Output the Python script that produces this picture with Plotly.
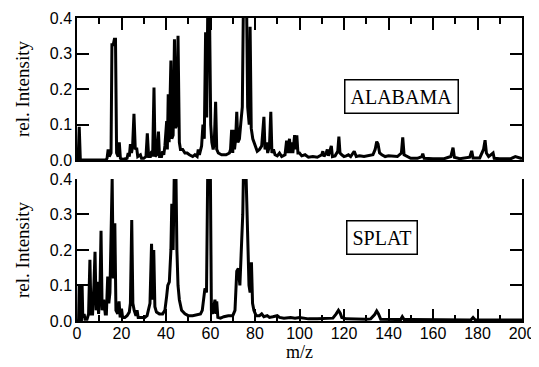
import plotly.graph_objects as go

# ALABAMA spectrum (m/z, relative intensity)
alabama_mz = [0, 0.5, 1.0, 1.5, 13.0, 13.5, 14.0, 14.5, 15.3, 15.7, 16.3, 16.8, 17.3, 17.8, 18.5, 19.0, 19.5,
              20.5, 22.5, 23.0, 23.5, 24.0, 24.5, 25.0, 25.6, 26.2, 26.8, 27.3, 28.5, 29.0, 30.0, 31.0, 31.6,
              32.2, 33.0, 33.6, 34.0, 34.6, 35.1, 35.8, 36.6, 37.1, 38.0, 38.5, 39.0, 39.5, 40.3, 40.6, 41.0,
              41.4, 42.2, 42.6, 43.2, 43.8, 44.3, 44.8, 45.4, 46.0, 46.5, 47.5, 48.5, 49.5, 50.5, 52.0, 53.0,
              54.0, 54.5, 55.0, 56.0, 56.6, 57.2, 57.8, 58.3, 58.8, 59.5, 60.1, 60.6, 61.2, 61.7, 62.3, 62.8,
              63.5, 65.0, 67.0, 68.5, 69.0, 69.5, 70.0, 70.3, 70.8, 71.3, 71.8, 72.3, 73.0, 73.7, 74.3, 74.8,
              76.2, 76.7, 77.4, 77.8, 78.3, 79.0, 80.0, 81.0, 82.0, 83.0, 83.5, 84.0, 84.5, 85.2, 85.7, 86.5,
              87.1, 87.6, 88.3, 89.0, 90.0, 91.0, 92.0, 93.5, 94.2, 94.7, 95.5, 96.0, 96.5, 97.0, 97.8, 98.3,
              98.8, 99.3, 100.0, 101.0, 102.5, 104.0, 106.0, 108.0, 110.0, 110.5, 111.0, 112.0, 112.5, 113.0,
              114.3, 114.8, 116.0, 117.2, 117.7, 118.2, 119.0, 120.0, 121.0, 122.0, 123.0, 124.6, 125.5, 127.0,
              129.0, 131.0, 133.0, 134.0, 134.7, 135.3, 136.0, 137.0, 138.5, 140.0, 142.0, 144.0, 145.8, 146.4,
              147.0, 148.5, 150.0, 153.0, 155.0, 155.4, 156.0, 160.0, 165.0, 168.0, 169.0, 169.6, 172.0, 176.5,
              177.4, 178.0, 181.0, 182.7, 183.4, 184.0, 185.0, 187.0, 187.5, 190.0, 195.0, 197.0, 198.0, 199.0,
              200.0]
alabama_int = [0.0, 0.0, 0.094, 0.0, 0.0, 0.005, 0.03, 0.01, 0.02, 0.325, 0.325, 0.34, 0.34, 0.02, 0.01, 0.05, 0.005,
               0.002, 0.005, 0.02, 0.01, 0.045, 0.02, 0.04, 0.13, 0.03, 0.035, 0.01, 0.015, 0.005, 0.005, 0.01, 0.075,
               0.01, 0.01, 0.025, 0.01, 0.204, 0.01, 0.015, 0.08, 0.01, 0.01, 0.025, 0.015, 0.04, 0.11, 0.03, 0.185,
               0.05, 0.28, 0.06, 0.07, 0.34, 0.09, 0.1, 0.35, 0.05, 0.03, 0.03, 0.02, 0.02, 0.015, 0.01, 0.015,
               0.01, 0.03, 0.015, 0.04, 0.1, 0.06, 0.36, 0.12, 0.45, 0.45, 0.1, 0.05, 0.03, 0.05, 0.164, 0.03,
               0.02, 0.015, 0.015, 0.02, 0.03, 0.085, 0.02, 0.085, 0.03, 0.06, 0.136, 0.05, 0.06, 0.11, 0.15, 0.45,
               0.45, 0.15, 0.1, 0.375, 0.09, 0.06, 0.04, 0.025, 0.03, 0.04, 0.08, 0.122, 0.03, 0.05, 0.02, 0.04,
               0.136, 0.02, 0.03, 0.015, 0.012, 0.02, 0.01, 0.015, 0.055, 0.02, 0.06, 0.02, 0.05, 0.02, 0.07, 0.03,
               0.07, 0.02, 0.02, 0.012, 0.015, 0.008, 0.01, 0.008, 0.015, 0.025, 0.01, 0.02, 0.03, 0.012,
               0.04, 0.01, 0.012, 0.025, 0.066, 0.02, 0.015, 0.01, 0.012, 0.015, 0.01, 0.025, 0.01, 0.012,
               0.01, 0.012, 0.015, 0.03, 0.052, 0.045, 0.02, 0.015, 0.01, 0.012, 0.01, 0.01, 0.02, 0.064,
               0.015, 0.01, 0.005, 0.005, 0.01, 0.018, 0.005, 0.004, 0.004, 0.01, 0.035, 0.008, 0.004, 0.008,
               0.026, 0.006, 0.006, 0.03, 0.056, 0.02, 0.01, 0.02, 0.005, 0.004, 0.004, 0.01, 0.008, 0.004,
               0.004]

# SPLAT spectrum (m/z, relative intensity)
splat_mz = [0, 0.7, 1.0, 1.3, 2.0, 2.3, 2.6, 3.2, 3.6, 4.5, 5.2, 5.8, 6.3, 7.0, 7.6, 8.1, 8.6, 9.2, 9.7, 10.3,
            10.8, 11.3, 12.0, 12.7, 13.2, 13.8, 14.3, 14.8, 15.8, 16.3, 17.0, 17.5, 18.3, 18.9, 19.4, 20.0,
            20.5, 21.5, 22.5, 23.5, 24.0, 24.6, 25.1, 25.7, 26.5, 27.0, 27.5, 29.0, 30.5, 31.5, 32.3, 32.8,
            33.5, 34.0, 34.5, 35.0, 35.7, 37.0, 38.5, 39.5, 40.3, 40.8, 41.5, 42.2, 42.6, 43.2, 43.8, 44.4,
            44.9, 45.4, 46.0, 47.0, 48.5, 50.0, 52.0, 54.0, 55.5, 56.3, 57.0, 57.5, 58.2, 58.8, 59.9, 60.4,
            61.0, 61.5, 62.0, 62.5, 62.8, 63.3, 64.5, 66.0, 68.0, 70.0, 71.0, 71.8, 72.5, 73.2, 73.8, 74.5,
            74.9, 75.8, 76.3, 76.8, 77.3, 77.8, 78.4, 78.9, 79.5, 80.5, 82.0, 83.0, 84.0, 85.5, 86.5, 88.0,
            90.0, 91.0, 93.0, 96.0, 98.0, 100.0, 104.0, 108.0, 112.0, 115.0, 116.5, 117.5, 118.3, 119.0,
            121.0, 125.0, 130.0, 132.0, 133.8, 134.7, 135.5, 136.5, 140.0, 143.0, 145.5, 146.2, 147.0, 150.0,
            160.0, 170.0, 177.0, 178.0, 179.0, 190.0, 200.0]
splat_int = [0.0, 0.0, 0.1, 0.0, 0.0, 0.1, 0.01, 0.02, 0.005, 0.005, 0.02, 0.172, 0.02, 0.02, 0.1, 0.195, 0.03, 0.11, 0.02, 0.08,
             0.254, 0.03, 0.06, 0.02, 0.02, 0.125, 0.05, 0.08, 0.40, 0.12, 0.275, 0.03, 0.02, 0.055, 0.01, 0.035,
             0.01, 0.01, 0.015, 0.025, 0.05, 0.284, 0.05, 0.03, 0.015, 0.03, 0.01, 0.01, 0.01, 0.015, 0.04, 0.05,
             0.217, 0.06, 0.2, 0.04, 0.025, 0.02, 0.02, 0.03, 0.07, 0.1, 0.11, 0.2, 0.33, 0.2, 0.45, 0.45,
             0.2, 0.1, 0.06, 0.03, 0.02, 0.015, 0.015, 0.018, 0.02, 0.03, 0.06, 0.092, 0.08, 0.45, 0.45, 0.03,
             0.02, 0.04, 0.06, 0.02, 0.055, 0.01, 0.008, 0.012, 0.015, 0.015, 0.03, 0.14, 0.148, 0.1, 0.2, 0.3,
             0.45, 0.45, 0.336, 0.2, 0.1, 0.08, 0.165, 0.05, 0.03, 0.015, 0.015, 0.02, 0.012, 0.015, 0.01, 0.012,
             0.015, 0.01, 0.008, 0.01, 0.008, 0.01, 0.006, 0.006, 0.006, 0.008, 0.02, 0.03, 0.022, 0.01,
             0.006, 0.005, 0.005, 0.006, 0.018, 0.028, 0.02, 0.005, 0.005, 0.004, 0.004, 0.012, 0.004, 0.004,
             0.003, 0.003, 0.003, 0.01, 0.003, 0.003, 0.003]

panel_labels = ["ALABAMA", "SPLAT"]
y_tick_vals = [0.0, 0.1, 0.2, 0.3, 0.4]
x_tick_vals = [0, 20, 40, 60, 80, 100, 120, 140, 160, 180, 200]

fig = go.Figure()
fig.add_trace(go.Scatter(x=alabama_mz, y=alabama_int, mode="lines",
                         line=dict(color="black", width=3), xaxis="x", yaxis="y",
                         showlegend=False))
fig.add_trace(go.Scatter(x=splat_mz, y=splat_int, mode="lines",
                         line=dict(color="black", width=3), xaxis="x2", yaxis="y2",
                         showlegend=False))

tick_font = dict(family="Liberation Sans, Arial", size=16, color="black")
serif = "Liberation Serif, Times New Roman"
title_font = dict(family=serif, size=19, color="black")

common_x = dict(range=[0, 200], tickvals=x_tick_vals, ticks="inside", ticklen=12, tickwidth=1.5,
                tickcolor="black", showline=True, linecolor="black", linewidth=1.5,
                showgrid=False, zeroline=False, automargin=False, ticklabeloverflow="allow",
                minor=dict(dtick=10, tick0=0, ticks="inside", ticklen=6, tickwidth=1.5,
                           tickcolor="black", showgrid=False))
common_y = dict(range=[0, 0.4], tickvals=y_tick_vals, tickformat=".1f", ticks="inside", ticklen=12,
                tickwidth=1.5, tickcolor="black", showline=True, linecolor="black", linewidth=1.5,
                mirror="ticks", showgrid=False, zeroline=False, tickfont=tick_font, automargin=False,
                title=dict(text="rel. Intensity", font=title_font, standoff=15))

# The page body has an 8px margin, so the figure is sized/offset to land where the reference is.
fig.update_layout(
    width=531, height=359,
    margin=dict(l=69, r=17, t=10, b=46, autoexpand=False),
    paper_bgcolor="white", plot_bgcolor="white",
    xaxis=dict(**common_x, domain=[0, 1], anchor="y", side="top", showticklabels=False, mirror=True),
    yaxis=dict(**common_y, domain=[0.531, 1], anchor="x"),
    xaxis2=dict(**common_x, domain=[0, 1], anchor="y2", side="bottom", mirror=False,
                tickfont=tick_font, ticklabelstandoff=-3),
    yaxis2=dict(**common_y, domain=[0, 0.469], anchor="x2"),
    annotations=[
        dict(text="m/z", x=0.5, y=-0.102, xref="paper", yref="paper", xanchor="center",
             yanchor="middle", showarrow=False, font=dict(family=serif, size=18, color="black")),
        dict(text=panel_labels[0], x=146, y=0.179, xref="x", yref="y", showarrow=False,
             font=dict(family=serif, size=20, color="black"),
             bordercolor="black", borderwidth=1.5, borderpad=5, bgcolor="white"),
        dict(text=panel_labels[1], x=137, y=0.235, xref="x2", yref="y2", showarrow=False,
             font=dict(family=serif, size=20, color="black"),
             bordercolor="black", borderwidth=1.5, borderpad=5, bgcolor="white"),
    ],
)

fig.write_html("out.html")
